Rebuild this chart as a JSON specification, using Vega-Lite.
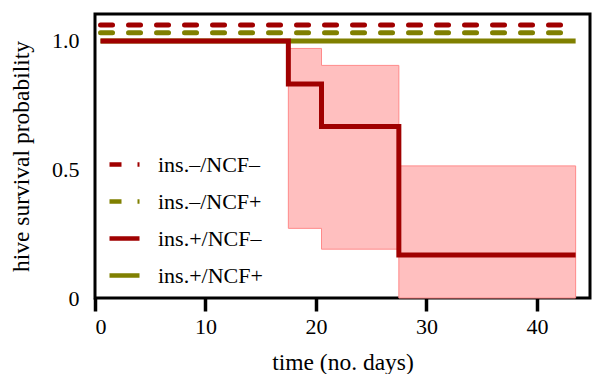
{
  "$schema": "https://vega.github.io/schema/vega-lite/v6.json",
  "width": 495,
  "height": 284,
  "autosize": {"type": "none"},
  "padding": {"left": 95, "top": 14, "right": 3, "bottom": 76},
  "background": "white",
  "config": {
    "view": {"stroke": "black", "strokeWidth": 3},
    "font": "Liberation Serif"
  },
  "datasets": {
    "lines": [
      {"t": 0.5, "p": 1.062, "group": "ins.–/NCF–"},
      {"t": 43.5, "p": 1.062, "group": "ins.–/NCF–"},
      {"t": 0.5, "p": 1.032, "group": "ins.–/NCF+"},
      {"t": 43.5, "p": 1.032, "group": "ins.–/NCF+"},
      {"t": 0.5, "p": 1.0, "group": "ins.+/NCF+"},
      {"t": 43.5, "p": 1.0, "group": "ins.+/NCF+"},
      {"t": 0.5, "p": 1.0, "group": "ins.+/NCF–"},
      {"t": 17.5, "p": 0.833, "group": "ins.+/NCF–"},
      {"t": 20.5, "p": 0.667, "group": "ins.+/NCF–"},
      {"t": 27.5, "p": 0.167, "group": "ins.+/NCF–"},
      {"t": 43.5, "p": 0.167, "group": "ins.+/NCF–"}
    ],
    "band": [
      {"t": 17.5, "lo": 0.271, "hi": 0.971},
      {"t": 20.5, "lo": 0.19, "hi": 0.905},
      {"t": 27.5, "lo": 0.0, "hi": 0.514},
      {"t": 43.5, "lo": 0.0, "hi": 0.514}
    ]
  },
  "layer": [
    {
      "data": {"name": "band"},
      "mark": {"type": "area", "interpolate": "step-after", "fill": "#ffbfbf", "stroke": "#ff8a8a", "strokeWidth": 1},
      "encoding": {
        "x": {
          "field": "t", "type": "quantitative",
          "scale": {"domain": [0, 44.8], "nice": false, "zero": false},
          "axis": {
            "title": "time (no. days)", "values": [0, 10, 20, 30, 40],
            "grid": false, "domain": false, "ticks": true,
            "tickColor": "black", "tickWidth": 3.5, "tickSize": 13,
            "labelFont": "Liberation Serif", "labelFontSize": 22, "labelColor": "black", "labelPadding": 5,
            "titleFont": "Liberation Serif", "titleFontSize": 23.5, "titleFontWeight": "normal", "titleColor": "black", "titlePadding": 13
          }
        },
        "y": {
          "field": "hi", "type": "quantitative",
          "scale": {"domain": [0, 1.105], "nice": false},
          "axis": {
            "title": "hive survival probability", "values": [0, 0.5, 1.0],
            "labelExpr": "datum.value == 0 ? '0' : format(datum.value, '.1f')",
            "grid": false, "domain": false, "ticks": false,
            "labelFont": "Liberation Serif", "labelFontSize": 22, "labelColor": "black", "labelPadding": 16,
            "titleFont": "Liberation Serif", "titleFontSize": 23.5, "titleFontWeight": "normal", "titleColor": "black", "titlePadding": 18
          }
        },
        "y2": {"field": "lo"}
      }
    },
    {
      "data": {"name": "lines"},
      "transform": [{"filter": "indexof(datum.group, 'ins.–') == 0"}],
      "mark": {"type": "line", "interpolate": "step-after", "strokeWidth": 5, "strokeCap": "round"},
      "encoding": {
        "x": {"field": "t", "type": "quantitative"},
        "y": {"field": "p", "type": "quantitative"},
        "color": {"field": "group", "type": "nominal",
          "scale": {"domain": ["ins.–/NCF–", "ins.–/NCF+", "ins.+/NCF–", "ins.+/NCF+"], "range": ["#a00000", "#808000", "#a00000", "#808000"]},
          "legend": {
            "title": null, "orient": "none", "legendX": 12, "legendY": 133,
            "symbolType": "stroke", "symbolSize": 900, "symbolStrokeWidth": 4.5,
            "labelFont": "Liberation Serif", "labelFontSize": 22, "labelColor": "black",
            "labelOffset": 16, "rowPadding": 8, "padding": 0
          }
        },
        "strokeDash": {"field": "group", "type": "nominal",
          "scale": {"domain": ["ins.–/NCF–", "ins.–/NCF+", "ins.+/NCF–", "ins.+/NCF+"], "range": [[12, 16], [12, 16], [1, 0], [1, 0]]}
        }
      }
    },
    {
      "data": {"name": "lines"},
      "transform": [{"filter": "datum.group == 'ins.+/NCF+'"}],
      "mark": {"type": "line", "interpolate": "step-after", "strokeWidth": 5},
      "encoding": {
        "x": {"field": "t", "type": "quantitative"},
        "y": {"field": "p", "type": "quantitative"},
        "color": {"field": "group", "type": "nominal"},
        "strokeDash": {"field": "group", "type": "nominal"}
      }
    },
    {
      "data": {"name": "lines"},
      "transform": [{"filter": "datum.group == 'ins.+/NCF–'"}],
      "mark": {"type": "line", "interpolate": "step-after", "strokeWidth": 5},
      "encoding": {
        "x": {"field": "t", "type": "quantitative"},
        "y": {"field": "p", "type": "quantitative"},
        "color": {"field": "group", "type": "nominal"},
        "strokeDash": {"field": "group", "type": "nominal"}
      }
    }
  ]
}
